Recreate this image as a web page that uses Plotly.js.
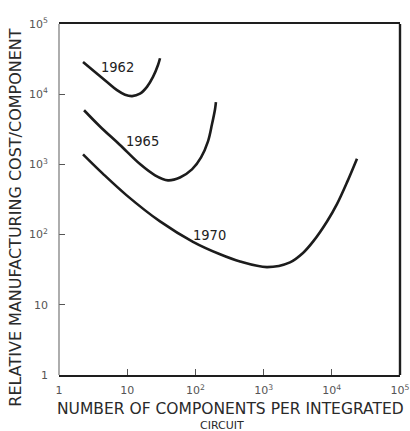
<!DOCTYPE html>
<html>
<head>
<meta charset="utf-8">
<script src="https://cdn.plot.ly/plotly-3.0.1.min.js"></script>
<style>html,body{margin:0;padding:0;background:#fff;}#chart{width:410px;height:431px;}</style>
</head>
<body>
<div id="chart"></div>
<script>
// Components per integrated circuit (x) and relative manufacturing cost per component (y)
const x1962 = [2.25, 3.37, 5.06, 7.09, 9.29, 11.8, 15.4, 19.5, 23.9, 28.3, 30.3];
const y1962 = [28640, 20700, 14960, 11430, 9840, 9400, 10190, 12740, 17620, 26060, 32510];

const x1965 = [2.33, 3.99, 7.84, 15.4, 25.6, 39.6, 59.4, 89.1, 121, 153, 175, 194, 200];
const y1965 = [5910, 3470, 1890, 1010, 700, 592, 650, 848, 1260, 2130, 3730, 6110, 7690];

const x1970 = [2.25, 4.42, 9.93, 30.3, 92.2, 230, 451, 1122, 2440, 3780, 5300, 8510, 11900, 16700, 23400];
const y1970 = [1390, 733, 359, 154, 78.9, 52.4, 41.3, 34.4, 40.2, 54.7, 79.3, 154, 272, 555, 1208];

const curveLabels = ["1962", "1965", "1970"];
const labelX = [7.1, 16.5, 163];
const labelY = [24500, 2130, 100];

const tickVals = [1, 10, 100, 1000, 10000, 100000];
const xTickText = ["1", "10", "10<sup>2</sup>", "10<sup>3</sup>", "10<sup>4</sup>", "10<sup>5</sup>"];
const yTickText = ["1", "10", "10<sup>2</sup>", "10<sup>3</sup>", "10<sup>4</sup>", "10<sup>5</sup>"];

const lineStyle = {color: '#1c1c1c', width: 2.6, shape: 'spline', smoothing: 1.0};
const traces = [
  {x: x1962, y: y1962, mode: 'lines', line: lineStyle, name: '1962'},
  {x: x1965, y: y1965, mode: 'lines', line: lineStyle, name: '1965'},
  {x: x1970, y: y1970, mode: 'lines', line: lineStyle, name: '1970'}
];

const font = "DejaVu Sans, sans-serif";
const annotations = curveLabels.map((t, i) => ({
  x: Math.log10(labelX[i]), y: Math.log10(labelY[i]), xref: 'x', yref: 'y',
  text: t, showarrow: false, font: {family: "DejaVu Sans Condensed, DejaVu Sans, sans-serif", size: 14.5, color: '#222'}
}));
annotations.push({
  xref: 'paper', yref: 'paper', x: 0.503, y: -0.097, xanchor: 'center', yanchor: 'middle',
  text: 'NUMBER OF COMPONENTS PER INTEGRATED', showarrow: false,
  font: {family: font, size: 15.5, color: '#2a2a2a'}
});
annotations.push({
  xref: 'paper', yref: 'paper', x: 0.478, y: -0.144, xanchor: 'center', yanchor: 'middle',
  text: 'CIRCUIT', showarrow: false,
  font: {family: font, size: 11, color: '#2a2a2a'}
});
annotations.push({
  xref: 'paper', yref: 'paper', x: -0.13, y: 0.45, xanchor: 'center', yanchor: 'middle',
  text: 'RELATIVE MANUFACTURING COST/COMPONENT', showarrow: false, textangle: -90,
  font: {family: font, size: 16, color: '#2a2a2a'}
});

const axisCommon = {
  type: 'log', showgrid: false, zeroline: false,
  ticks: 'inside', ticklen: 6, tickwidth: 1.3,
  tickcolor: '#555', tickvals: tickVals,
  tickfont: {family: font, size: 11, color: '#555'}
};

const layout = {
  width: 410, height: 431,
  margin: {l: 59, r: 10, t: 24, b: 56},
  paper_bgcolor: '#fff', plot_bgcolor: '#fff',
  showlegend: false,
  xaxis: Object.assign({}, axisCommon, {range: [0, 5], ticktext: xTickText, ticklabelstandoff: 4,
    showline: true, mirror: true, linecolor: '#1e1e1e', linewidth: 2.2}),
  yaxis: Object.assign({}, axisCommon, {range: [0, 5], ticktext: yTickText, ticklabelstandoff: 10,
    showline: false}),
  shapes: [
    {type: 'line', xref: 'paper', yref: 'paper', x0: 0, x1: 0, y0: 0, y1: 1, line: {color: '#777', width: 1.2}},
    {type: 'line', xref: 'paper', yref: 'paper', x0: 1, x1: 1, y0: 0, y1: 1, line: {color: '#1e1e1e', width: 2.4}}
  ],
  annotations: annotations
};

Plotly.newPlot('chart', traces, layout, {displayModeBar: false, staticPlot: true});
</script>
</body>
</html>
